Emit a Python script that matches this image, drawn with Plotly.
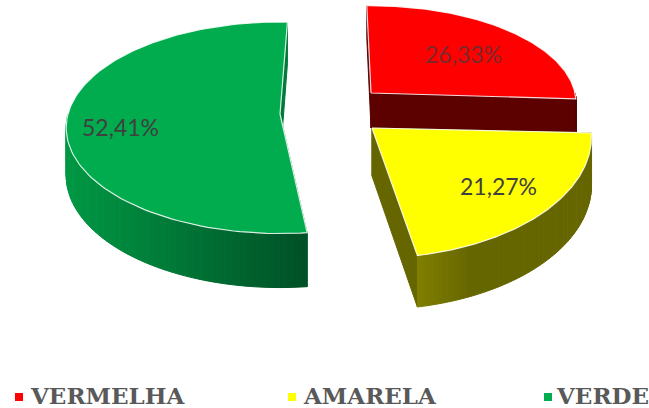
import numpy as np
import plotly.graph_objects as go

categories = ["VERMELHA", "AMARELA", "VERDE"]
values = [26.33, 21.27, 52.41]
labels = ["26,33%", "21,27%", "52,41%"]
colors = ["#FF0000", "#FFFF00", "#00AC4E"]

# drawing geometry per slice (pixel space)
GEOM = {
    "VERMELHA": dict(cx=371, cy=93, rx=204, ry=96, k=0.10, dz=35, start=-1.3),
    "AMARELA": dict(cx=372, cy=128, rx=219, ry=121, k=0.07, dz=48, start=92.3),
    "VERDE": dict(cx=280, cy=114, rx=212, ry=104, k=0.13, dz=47, start=173.6),
}
LABEL_POS = {"VERMELHA": (463, 54), "AMARELA": (498, 186), "VERDE": (120, 127)}
LABEL_COL = {"VERMELHA": "#7A2A2A", "AMARELA": "#404040", "VERDE": "#404040"}
LEGEND_X = {"VERMELHA": (19, 28), "AMARELA": (292, 301), "VERDE": (548, 554)}
WALL_LEFT = {"VERMELHA": (92, 0, 0), "AMARELA": (128, 127, 0), "VERDE": (0, 152, 68)}
WALL_RIGHT = {"VERMELHA": (92, 0, 0), "AMARELA": (102, 102, 0), "VERDE": (0, 80, 38)}
WALL_RAMP = {"VERMELHA": 1.0, "AMARELA": 0.3, "VERDE": 1.0}
CUT_COL = {"VERMELHA": "#5C0000", "AMARELA": "#666600", "VERDE": "#007A3A"}


def project(g, theta, r=1.0, z=0.0):
    t = np.radians(theta)
    s = 1.0 / (1.0 + g["k"] * r * np.cos(t))
    x = g["cx"] + g["rx"] * r * np.sin(t) * s
    y = g["cy"] - g["ry"] * r * np.cos(t) * s + z * g["dz"] * s
    return x, y


def poly(fig, xs, ys, fill, line=None, width=1.0):
    fig.add_trace(go.Scatter(
        x=list(xs), y=list(ys), mode="lines", fill="toself", fillcolor=fill,
        line=dict(color=line or fill, width=width),
        hoverinfo="skip", showlegend=False))


def draw_slice(fig, name, value, color):
    g = GEOM[name]
    a0 = g["start"]
    a1 = a0 + value * 3.6
    arc = np.linspace(a0, a1, 120)

    # cut faces
    for a in (a0, a1):
        px, py = project(g, a)
        bx, by = project(g, a, z=1)
        ax, ay = project(g, a, r=0)
        ax2, ay2 = project(g, a, r=0, z=1)
        poly(fig, [ax, px, bx, ax2, ax], [ay, py, by, ay2, ay], CUT_COL[name])

    # outer wall, front half only, in gradient strips
    lo, hi = max(a0, 90), min(a1, 270)
    if hi > lo:
        edges = np.linspace(lo, hi, 61)
        x_all = [project(g, e)[0] for e in edges]
        xmin, xmax = min(x_all), max(x_all)
        for e0, e1 in zip(edges[:-1], edges[1:]):
            seg = np.linspace(e0, e1, 5)
            tx, ty = project(g, seg)
            bx, by = project(g, seg[::-1], z=1)
            f = (0.5 * (tx[0] + tx[-1]) - xmin) / (xmax - xmin)
            f = min(1.0, f / WALL_RAMP[name])
            c = [round(l + (r - l) * f) for l, r in zip(WALL_LEFT[name], WALL_RIGHT[name])]
            col = "rgb(%d,%d,%d)" % tuple(c)
            poly(fig, np.r_[tx, bx, tx[0]], np.r_[ty, by, ty[0]], col)

    # top face
    tx, ty = project(g, arc)
    ax, ay = project(g, a0, r=0)
    poly(fig, np.r_[ax, tx, ax], np.r_[ay, ty, ay], color, line="rgba(255,255,255,0.85)", width=1.2)


fig = go.Figure()
order = ["VERDE", "VERMELHA", "AMARELA"]
for nm in order:
    i = categories.index(nm)
    draw_slice(fig, nm, values[i], colors[i])

for nm, val, lab in zip(categories, values, labels):
    lx, ly = LABEL_POS[nm]
    fig.add_annotation(x=lx, y=ly, text=lab, showarrow=False, xanchor="center", yanchor="middle",
                       font=dict(family="Lato", size=23, color=LABEL_COL[nm]))

for nm, col in zip(categories, colors):
    mx, tx = LEGEND_X[nm]
    fig.add_trace(go.Scatter(x=[mx], y=[397], mode="markers",
                             marker=dict(symbol="square", size=8, color=col),
                             hoverinfo="skip", showlegend=False))
    fig.add_annotation(x=tx, y=395, text="<b>%s</b>" % nm, showarrow=False, xanchor="left", yanchor="middle",
                       font=dict(family="DejaVu Serif", size=23, color="#595959"))

fig.update_layout(
    width=649, height=408, margin=dict(l=0, r=0, t=0, b=0),
    paper_bgcolor="white", plot_bgcolor="white",
    xaxis=dict(range=[0, 649], visible=False, fixedrange=True),
    yaxis=dict(range=[408, 0], visible=False, fixedrange=True),
)
fig.write_html("out.html", config={"displayModeBar": False},
               post_script="document.body.style.margin='0';document.body.style.overflow='hidden';")
